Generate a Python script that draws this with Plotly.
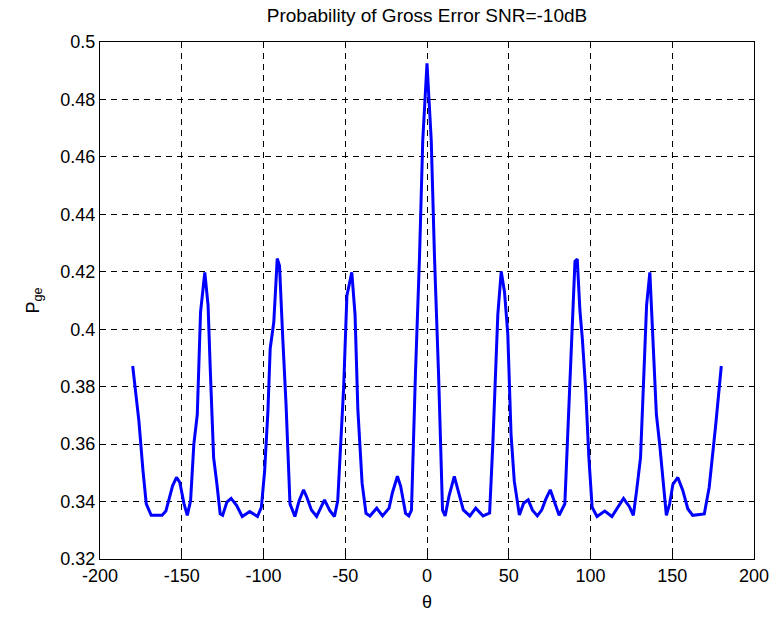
import plotly.graph_objects as go

theta = [-180, -178.4, -176.2, -173.7, -171.7, -168.7, -162, -159.7, -155.6, -153.2, -151.2,
         -148.6, -146.6, -144.6, -142.6, -140.5, -138.5, -135.9, -133.9, -132.5, -130.5,
         -128.5, -126.5, -125, -122.4, -119.8, -116.4, -113, -108.4, -103.7, -101.3,
         -99.3, -97.3, -95.9, -93.7, -91.6, -90.2, -88.2, -86.2, -83.8, -80.8,
         -78.2, -75.5, -73.5, -70.7, -67.5, -65.1, -62.7, -59.5, -56.6, -54.6,
         -52.6, -51, -49, -46, -44, -42.3, -39.7, -37.3, -34.9, -30.8,
         -27.2, -23.2, -21.2, -18.1, -16.1, -13.1, -11.1, -9.5, -7.1, -4.6,
         -2.6, 0, 2.6, 4.6, 7.1, 9.5, 11.1, 13.5, 16.7, 19.2,
         22.2, 26.2, 29.8, 34.3, 38.3, 40.3, 41.9, 43.3, 45.4, 47.4,
         49.4, 51.4, 53.4, 56.5, 59.1, 61.9, 64.5, 67.5, 70.2, 72.8,
         75.4, 77.8, 80.8, 84.3, 86.9, 88.9, 90.5, 91.9, 93.5, 95,
         97, 99, 101, 104, 108.7, 113.1, 117.1, 120.2, 123.8, 126.2,
         128.2, 130.6, 132.7, 134.3, 136.3, 138.3, 140.3, 142.3, 144, 146.4,
         148.4, 150.4, 153.4, 156.5, 159.5, 162.5, 169.6, 172.6, 176.6, 180]

p_ge = [0.3872, 0.3795, 0.368, 0.3507, 0.3392, 0.3352, 0.3352, 0.3367, 0.3455, 0.3484, 0.3467,
        0.3392, 0.3352, 0.3403, 0.36, 0.3703, 0.406, 0.4198, 0.4083, 0.3852, 0.3553,
        0.3461, 0.3357, 0.3352, 0.3398, 0.3411, 0.3386, 0.3348, 0.3365, 0.3348, 0.338,
        0.3507, 0.3714, 0.3933, 0.4025, 0.4246, 0.4221, 0.3967, 0.3737, 0.3392, 0.3348,
        0.3403, 0.3441, 0.3415, 0.3371, 0.3348, 0.338, 0.3406, 0.3369, 0.3348, 0.3403,
        0.3622, 0.3795, 0.4117, 0.4198, 0.405, 0.3722, 0.3464, 0.3359, 0.335, 0.3377,
        0.335, 0.3377, 0.343, 0.3488, 0.3453, 0.3359, 0.335, 0.337, 0.3839, 0.4248,
        0.4657, 0.4926, 0.4657, 0.4248, 0.3839, 0.337, 0.335, 0.342, 0.3488, 0.343,
        0.3371, 0.335, 0.3377, 0.335, 0.336, 0.3605, 0.3839, 0.405, 0.4201, 0.413,
        0.3985, 0.3634, 0.347, 0.3353, 0.3394, 0.3406, 0.337, 0.335, 0.3371, 0.341,
        0.3441, 0.3403, 0.3352, 0.3392, 0.3737, 0.4025, 0.4236, 0.4244, 0.4067, 0.3967,
        0.3795, 0.3553, 0.338, 0.3348, 0.3367, 0.3348, 0.3386, 0.3411, 0.3382, 0.3352,
        0.3438, 0.3553, 0.3852, 0.4083, 0.4198, 0.3967, 0.3703, 0.36, 0.3507, 0.3352,
        0.3392, 0.346, 0.3484, 0.3438, 0.3375, 0.3352, 0.3357, 0.345, 0.3668, 0.3872]

x_ticks = [-200, -150, -100, -50, 0, 50, 100, 150, 200]
y_ticks = [0.32, 0.34, 0.36, 0.38, 0.4, 0.42, 0.44, 0.46, 0.48, 0.5]
y_tick_text = ["0.32", "0.34", "0.36", "0.38", "0.4", "0.42", "0.44", "0.46", "0.48", "0.5"]

FONT = "Liberation Sans, Arial, Helvetica, sans-serif"

fig = go.Figure()
fig.add_trace(go.Scatter(x=theta, y=p_ge, mode="lines",
                         line=dict(color="#0000ff", width=3), showlegend=False))

axis_common = dict(
    showline=True, linecolor="black", linewidth=1, mirror="ticks",
    ticks="inside", ticklen=5, tickcolor="black",
    showgrid=True, gridcolor="black", gridwidth=1, griddash="6px,5px",
    zeroline=False, tickfont=dict(family=FONT, size=18, color="black"),
)

fig.update_xaxes(range=[-200, 200], tickvals=x_ticks,
                 ticktext=[str(v) for v in x_ticks],
                 title=dict(text="θ", font=dict(family=FONT, size=18, color="black"), standoff=10),
                 **axis_common)
fig.update_yaxes(range=[0.32, 0.5], tickvals=y_ticks, ticktext=y_tick_text,
                 title=dict(text="P<sub>ge</sub>", font=dict(family=FONT, size=18, color="black"), standoff=16),
                 **axis_common)

fig.update_layout(
    width=781, height=620,
    margin=dict(l=100, r=19, t=42, b=60),
    plot_bgcolor="white", paper_bgcolor="white",
    title=dict(text="Probability of Gross Error SNR=-10dB", x=0.5, xanchor="center",
               xref="paper", y=0.975, yanchor="middle",
               font=dict(family=FONT, size=19, color="black")),
)

fig.write_html("out.html")
